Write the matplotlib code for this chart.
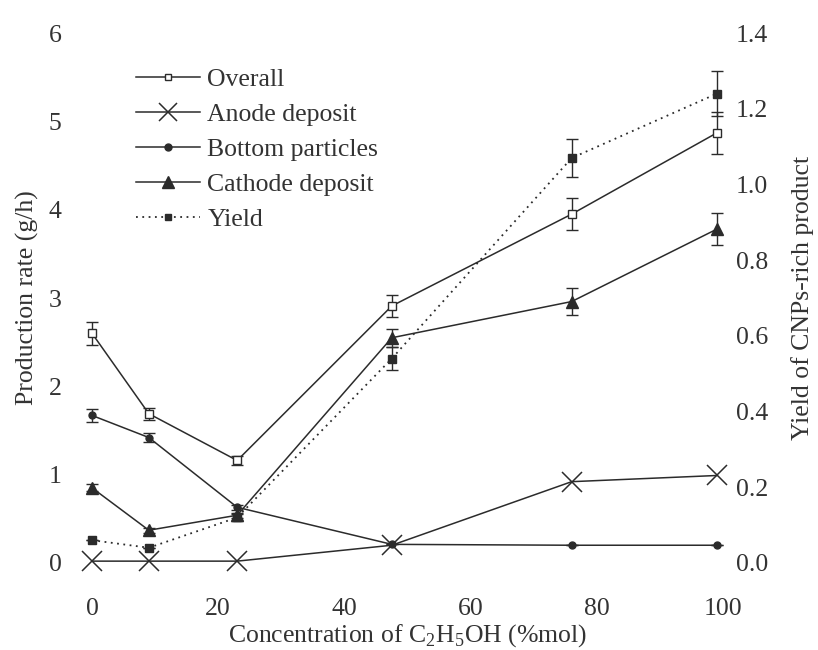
import numpy as np
import matplotlib.pyplot as plt
from matplotlib.lines import Line2D

plt.rcParams['font.family'] = ['Liberation Serif', 'DejaVu Serif']
plt.rcParams['mathtext.fontset'] = 'custom'
plt.rcParams['mathtext.rm'] = 'Liberation Serif'

# concentration of ethanol (%mol)
conc = [0, 9, 23, 47.5, 76, 99]

# production rate (g/h)
overall = [2.60, 1.69, 1.16, 2.91, 3.95, 4.87]
overall_err = [0.13, 0.07, 0.05, 0.12, 0.18, 0.24]
anode = [0.02, 0.02, 0.02, 0.20, 0.92, 0.99]
bottom = [1.67, 1.42, 0.63, 0.21, 0.20, 0.20]
bottom_err = [0.07, 0.05, 0.03, 0.0, 0.0, 0.0]
cathode = [0.85, 0.37, 0.54, 2.55, 2.96, 3.78]
cathode_err = [0.04, 0.03, 0.03, 0.10, 0.15, 0.18]

# yield of CNPs-rich product
yld = [0.06, 0.04, 0.12, 0.54, 1.07, 1.24]
yld_err = [0.0, 0.0, 0.01, 0.03, 0.05, 0.06]

col = '#2b2b2b'
tcol = '#333333'
fs = 18.5

fig = plt.figure(figsize=(8.18, 6.5), dpi=100)
ax = fig.add_axes([0.1125, 0.134, 0.7715, 0.815])
ax2 = ax.twinx()

eb = dict(ecolor=col, elinewidth=1, capsize=4, capthick=1)
ax.errorbar(conc, overall, yerr=overall_err, color=col, lw=1.1, marker='s',
            ms=6, mfc='white', mec=col, mew=1, clip_on=False, **eb)
ax.plot(conc, anode, color=col, lw=1.1, marker='x', ms=15, mew=1.1, clip_on=False)
ax.errorbar(conc, bottom, yerr=bottom_err, color=col, lw=1.1, marker='o',
            ms=5, mfc=col, mec=col, clip_on=False, **eb)
ax.errorbar(conc, cathode, yerr=cathode_err, color=col, lw=1.1, marker='^',
            ms=9, mfc=col, mec=col, clip_on=False, **eb)
ax2.errorbar(conc, yld, yerr=yld_err, color=col, lw=1.3, ls=(0, (1, 2.5)),
             marker='s', ms=6, mfc=col, mec=col, clip_on=False, **eb)

ax.set_xlim(0, 100)
ax.set_ylim(0, 6)
ax2.set_ylim(0, 1.4)
ax.set_xticks([0, 20, 40, 60, 80, 100])
ax.set_yticks(range(7))
ax2.set_yticks(np.arange(0, 1.41, 0.2))
ax2.set_yticklabels(['%.1f' % v for v in np.arange(0, 1.41, 0.2)])

for a in (ax, ax2):
    for s in a.spines.values():
        s.set_visible(False)
ax.tick_params(axis='both', length=0, labelsize=fs, colors=tcol)
ax.tick_params(axis='x', pad=25)
ax.tick_params(axis='y', pad=22)
ax2.tick_params(axis='y', length=0, labelsize=fs, colors=tcol, pad=9)

ax.set_xlabel('Concentration of C$_2$H$_5$OH (%mol)', fontsize=fs, color=tcol, labelpad=2)
ax.set_ylabel('Production rate (g/h)', fontsize=fs, color=tcol, labelpad=7)
ax2.set_ylabel('Yield of CNPs-rich product', fontsize=fs, color=tcol, labelpad=17)

handles = [
    Line2D([], [], color=col, lw=1.1, marker='s', ms=5, mfc='white', mec=col),
    Line2D([], [], color=col, lw=1.1, marker='x', ms=13, mew=1.1),
    Line2D([], [], color=col, lw=1.1, marker='o', ms=5, mfc=col),
    Line2D([], [], color=col, lw=1.1, marker='^', ms=8, mfc=col),
    Line2D([], [], color=col, lw=1.3, ls=(0, (1, 2.5)), marker='s', ms=5, mfc=col),
]
labels = ['Overall', 'Anode deposit', 'Bottom particles', 'Cathode deposit', 'Yield']
leg = fig.legend(handles, labels, loc='upper left', bbox_to_anchor=(0.15, 0.915),
                 frameon=False, fontsize=fs, handlelength=2.5, handletextpad=0.3,
                 labelspacing=0.47, borderpad=0)
for t in leg.get_texts():
    t.set_color(tcol)

fig.savefig('out.png', dpi=100)
